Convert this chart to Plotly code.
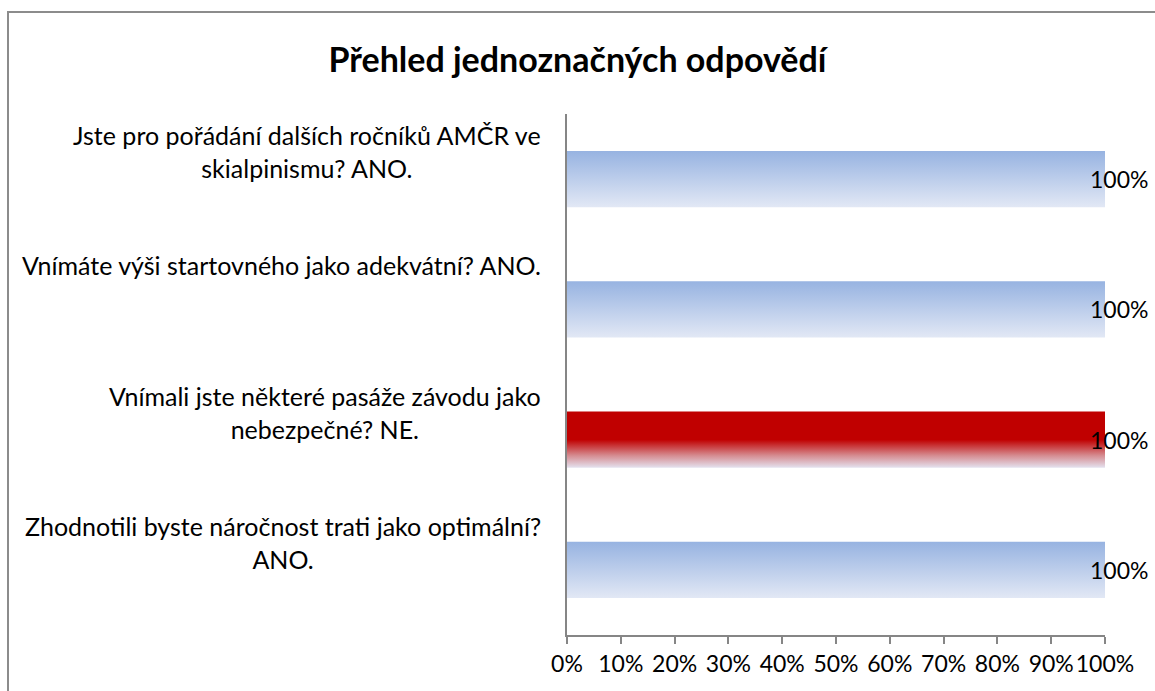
import plotly.graph_objects as go

# ---- data ----
questions = [
    "Jste pro pořádání dalších ročníků AMČR ve<br>skialpinismu? ANO.",
    "Vnímáte výši startovného jako adekvátní? ANO.",
    "Vnímali jste některé pasáže závodu jako<br>nebezpečné? NE.",
    "Zhodnotili byste náročnost trati jako optimální?<br>ANO.",
]
values = [1.0, 1.0, 1.0, 1.0]
value_labels = ["100%", "100%", "100%", "100%"]
highlight = [False, False, True, False]
tick_vals = [0, 0.1, 0.2, 0.3, 0.4, 0.5, 0.6, 0.7, 0.8, 0.9, 1.0]
title_text = "Přehled jednoznačných odpovědí"

# ---- layout constants ----
W, H = 1155, 691
L, R, T, B = 567, 50, 114, 56
PW, PH = W - L - R, H - T - B
FONT = "Lato"
FS_LABEL = 25
FS_TICK = 23
half = 0.215  # half bar thickness in category units
label_right_px = 543

blue_scale = [[0, "#E2E8F5"], [1, "#97B3E1"]]
red_scale = [[0, "#E4E1EE"], [0.22, "#D58A8F"], [0.5, "#C00000"], [1, "#C00000"]]

n = len(questions)
positions = [n - 1 - i for i in range(n)]

fig = go.Figure()
for i in range(n):
    p = positions[i]
    v = values[i]
    fig.add_trace(go.Scatter(
        x=[0, v, v, 0, 0],
        y=[p - half, p - half, p + half, p + half, p - half],
        mode="lines",
        line=dict(width=0),
        fill="toself",
        fillgradient=dict(type="vertical",
                          colorscale=red_scale if highlight[i] else blue_scale),
        hoverinfo="skip",
        showlegend=False,
    ))

annotations = []
for i in range(n):
    annotations.append(dict(
        x=(label_right_px - L) / PW, xref="paper",
        y=positions[i] + 0.5, yref="y",
        text=questions[i], showarrow=False,
        xanchor="right", yanchor="top", align="center",
        yshift=-4,
        font=dict(family=FONT, size=FS_LABEL, color="#000000"),
    ))
    annotations.append(dict(
        x=values[i], xref="x", y=positions[i], yref="y",
        text=value_labels[i], showarrow=False,
        xanchor="left", yanchor="middle", xshift=-17,
        font=dict(family=FONT, size=FS_TICK, color="#000000"),
    ))

fig.update_layout(
    width=W, height=H,
    margin=dict(l=L, r=R, t=T, b=B),
    paper_bgcolor="white", plot_bgcolor="white",
    title=dict(text="<b>" + title_text + "</b>", x=0.5, xref="container", xanchor="center",
               y=1 - 60 / H, yref="container", yanchor="middle",
               font=dict(family=FONT, size=34, color="#000000")),
    xaxis=dict(range=[0, 1], tickvals=tick_vals, tickformat=".0%",
               tickangle=0, automargin=False,
               showgrid=False, zeroline=False,
               showline=True, linecolor="#868686", linewidth=2,
               ticks="outside", ticklen=7, tickwidth=1.5, tickcolor="#868686",
               tickfont=dict(family=FONT, size=FS_TICK, color="#000000"),
               fixedrange=True),
    yaxis=dict(range=[-0.5, n - 0.5], showticklabels=False, showgrid=False,
               automargin=False,
               zeroline=False, showline=True, linecolor="#868686", linewidth=2,
               ticks="", fixedrange=True),
    annotations=annotations,
    shapes=[dict(type="rect", xref="paper", yref="paper",
                 x0=(8 - L) / PW, x1=(W + 20 - L) / PW,
                 y0=-(H + 20 - T - PH) / PH, y1=(PH + T - 12) / PH,
                 line=dict(color="#8C8C8C", width=2), fillcolor="rgba(0,0,0,0)",
                 layer="below")],
)

fig.write_html("out.html", config={"displayModeBar": False},
               post_script="document.body.style.margin='0';document.body.style.overflow='hidden';")
